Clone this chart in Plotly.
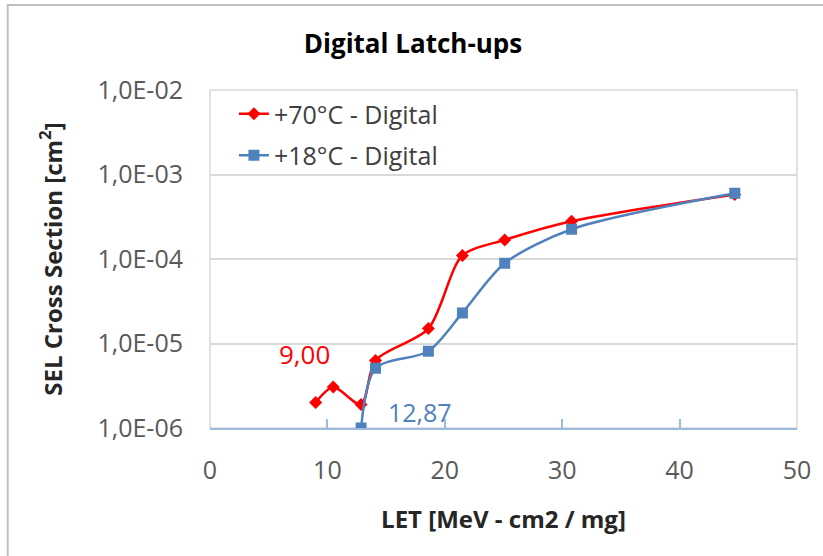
import math
import plotly.graph_objects as go

# LET values [MeV-cm2/mg] and SEL cross sections [cm2]
let_70 = [9.0, 10.5, 12.87, 14.1, 18.6, 21.5, 25.1, 30.8, 44.7]
sel_70 = [2.0e-6, 3.05e-6, 1.9e-6, 6.3e-6, 1.5e-5, 1.1e-4, 1.68e-4, 2.8e-4, 5.8e-4]

let_18 = [12.87, 14.1, 18.6, 21.5, 25.1, 30.8, 44.7]
sel_18 = [1.0e-6, 5.1e-6, 8.1e-6, 2.3e-5, 8.9e-5, 2.25e-4, 6.0e-4]

y_ticks = [1e-6, 1e-5, 1e-4, 1e-3, 1e-2]
y_tick_text = ["1,0E-06", "1,0E-05", "1,0E-04", "1,0E-03", "1,0E-02"]

RED = "#ff0000"
BLUE = "#4f81bd"
FONT = "Open Sans"

W, H = 823, 556
L, R, T, B = 210, 799, 90, 428


def px_x(p):
    return (p - L) / (R - L)


def px_y(p):
    return (B - p) / (B - T)


fig = go.Figure()
fig.add_trace(go.Scatter(
    x=let_70, y=sel_70, name="+70°C - Digital", mode="lines+markers",
    line=dict(color=RED, width=2.5, shape="spline", smoothing=0.8),
    marker=dict(symbol="diamond", size=10, color=RED),
    legendgroup="a",
))
fig.add_trace(go.Scatter(
    x=let_18, y=sel_18, name="+18°C - Digital", mode="lines+markers",
    line=dict(color=BLUE, width=2.5, shape="spline", smoothing=0.8),
    marker=dict(symbol="square", size=11, color=BLUE),
    legendgroup="b",
))

# threshold labels (log axis: annotation y is given in log10 units)
fig.add_annotation(x=let_70[0], y=math.log10(sel_70[0]), text="9,00", showarrow=False,
                   xanchor="center", yanchor="middle", xshift=-11, yshift=49,
                   font=dict(family=FONT, size=26, color=RED))
fig.add_annotation(x=let_18[0], y=math.log10(sel_18[0]), text="12,87", showarrow=False,
                   xanchor="left", yanchor="middle", xshift=25, yshift=16,
                   font=dict(family=FONT, size=25, color=BLUE))

shapes = [
    # plot area frame
    dict(type="rect", xref="paper", yref="paper", x0=0, x1=1, y0=0, y1=1,
         line=dict(color="#d9d9d9", width=1.5), layer="below"),
    # outer chart frame
    dict(type="rect", xref="paper", yref="paper",
         x0=px_x(7), x1=px_x(840), y0=px_y(570), y1=px_y(5),
         line=dict(color="#bfbfbf", width=2), layer="below"),
]

fig.update_layout(
    width=W, height=H,
    margin=dict(l=L, r=W - R, t=T, b=H - B),
    paper_bgcolor="white", plot_bgcolor="white",
    font=dict(family=FONT, color="#404040"),
    title=dict(text="<b>Digital Latch-ups</b>", x=413 / W, xanchor="center",
               y=1 - 44 / H, yanchor="middle",
               font=dict(family=FONT, size=26, color="#000000")),
    showlegend=True,
    legend=dict(x=px_x(234), y=px_y(91), xanchor="left", yanchor="top",
                bgcolor="rgba(255,255,255,0)", tracegroupgap=6,
                font=dict(family=FONT, size=25, color="#404040"),
                itemwidth=30),
    shapes=shapes,
    xaxis=dict(range=[0, 50], dtick=10, tick0=0, showgrid=False,
               showline=True, linecolor="#9dbbe0", linewidth=2,
               ticks="inside", ticklen=9, tickcolor="#9dbbe0", tickwidth=1.5,
               ticklabelstandoff=19,
               tickfont=dict(family=FONT, size=25, color="#595959"),
               zeroline=False,
               title=dict(text="<b>LET [MeV - cm2 / mg]</b>", standoff=26,
                          font=dict(family=FONT, size=24, color="#262626"))),
    yaxis=dict(type="log", range=[-6, -2], tickvals=y_ticks, ticktext=y_tick_text,
               showgrid=True, gridcolor="#d9d9d9", gridwidth=1.5,
               showline=False, ticks="", zeroline=False,
               ticklabelstandoff=26,
               tickfont=dict(family=FONT, size=25, color="#595959"),
               title=dict(text="<b>SEL Cross Section [cm<sup>2</sup>]</b>", standoff=28,
                          font=dict(family=FONT, size=24, color="#262626"))),
)

fig.write_html("out.html")
